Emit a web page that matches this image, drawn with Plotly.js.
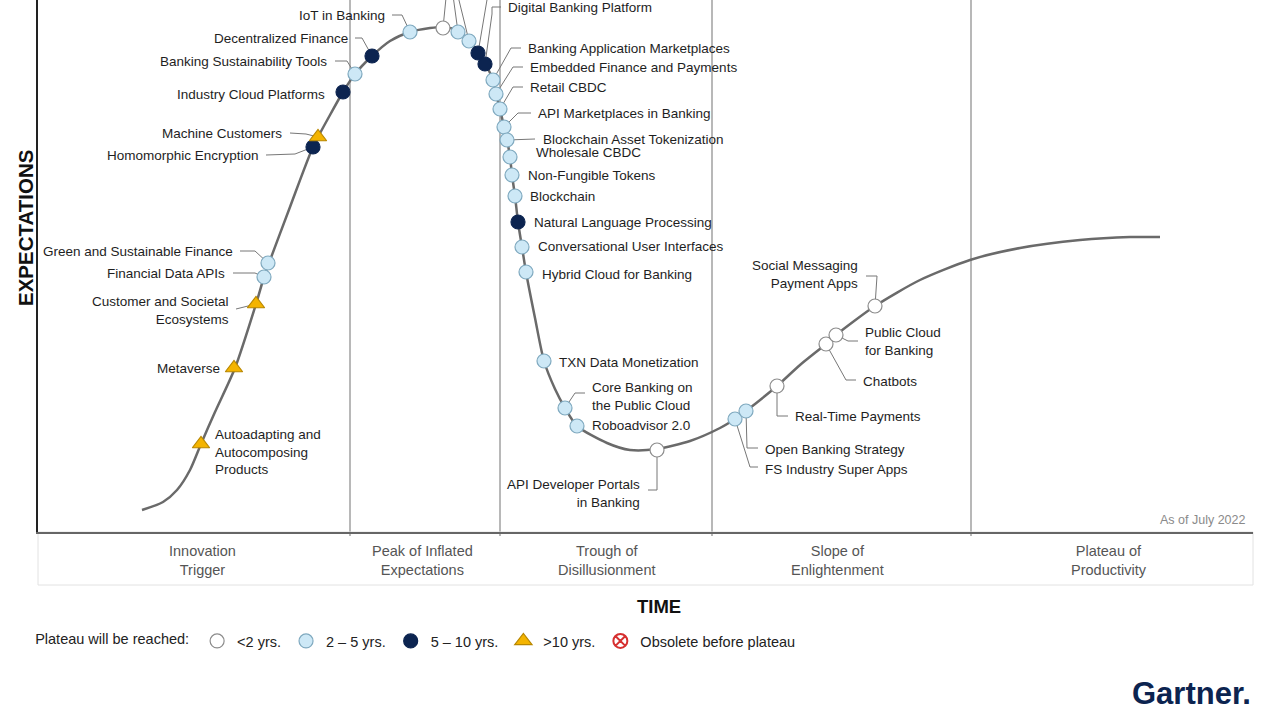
<!DOCTYPE html>
<html><head><meta charset="utf-8">
<script src="https://cdn.plot.ly/plotly-3.0.1.min.js"></script>
<style>html,body{margin:0;padding:0;background:#fff}#chart{width:1280px;height:720px}</style>
</head><body><div id="chart"></div>
<script>
// ---- Hype curve (time vs expectations) ----
const curveTime   = [104,125,139,152,163,177,197,218,226,231,252,275,292,305,317,334,352,372,392,407,420,431,440,448,455,458,462,466,469,472,474,477,480,484,488,497,506,517,527,539,569,592,619,652,682,697,708,739,762,788,798,837,882,932,982,1042,1092,1122];
const curveExpect = [22,30,42,62,88,120,164,228,255,269,325,385,417,440,458,476,491,500,504,505,501,492,480,467,452,438,423,405,392,375,357,336,310,285,260,214,171,143,124,106,89,82,83,91,104,113,121,146,167,188,197,226,252,272,284,292,295,295];

// ---- Technologies ----
const techNames = [
  "Autoadapting and<br>Autocomposing<br>Products","Metaverse","Customer and Societal<br>Ecosystems",
  "Financial Data APIs","Green and Sustainable Finance","Homomorphic Encryption","Machine Customers",
  "Industry Cloud Platforms","Banking Sustainability Tools","Decentralized Finance","IoT in Banking",
  "","","","","Digital Banking Platform",
  "Banking Application Marketplaces","Embedded Finance and Payments","Retail CBDC","API Marketplaces in Banking",
  "Blockchain Asset Tokenization","Wholesale CBDC","Non-Fungible Tokens","Blockchain","Natural Language Processing",
  "Conversational User Interfaces","Hybrid Cloud for Banking","TXN Data Monetization","Core Banking on<br>the Public Cloud",
  "Roboadvisor 2.0","API Developer Portals<br>in Banking","FS Industry Super Apps","Open Banking Strategy",
  "Real-Time Payments","Chatbots","Public Cloud<br>for Banking","Social Messaging<br>Payment Apps"
];
const techTime   = [163,196,218,226,230,275,280,305,317,334,372,405,420,431,440,447,455,458,462,466,469,472,474,477,480,484,488,506,527,539,619,697,708,739,788,798,837];
const techExpect = [88,164,228,255,269,385,395,440,458,476,500,504,500,491,479,468,452,438,423,405,392,375,357,336,310,285,260,171,124,106,82,113,121,146,188,197,226];
const techPlateau = [">10",">10",">10","2-5","2-5","5-10",">10","5-10","2-5","5-10","2-5",
  "<2","2-5","2-5","5-10","5-10","2-5","2-5","2-5","2-5","2-5","2-5","2-5","2-5","5-10","2-5","2-5","2-5","2-5","2-5",
  "<2","2-5","2-5","<2","<2","<2","<2"];

// ---- Phases ----
const phaseNames = ["Innovation<br>Trigger","Peak of Inflated<br>Expectations","Trough of<br>Disillusionment","Slope of<br>Enlightenment","Plateau of<br>Productivity"];
const phaseBounds = [312,462,674,933];

// ---- Legend ----
const plateauKeys   = ["<2","2-5","5-10",">10","obsolete"];
const plateauLabels = ["<2 yrs.","2 – 5 yrs.","5 – 10 yrs.",">10 yrs.","Obsolete before plateau"];

// ---- Styling / placement (not data) ----
const styleBy = {
  "<2":      {symbol:"circle", size:14, color:"#ffffff", line:"#8c8c8c"},
  "2-5":     {symbol:"circle", size:14, color:"#cde8f6", line:"#7fa9bf"},
  "5-10":    {symbol:"circle", size:14, color:"#0c2450", line:"#0c2450"},
  ">10":     {symbol:"triangle-up", size:15, color:"#f4b400", line:"#b88700"},
  "obsolete":{symbol:"circle-x", size:14, color:"#ffffff", line:"#d63030"}
};
// label placement: anchor, pixel offset from marker (dy down positive), leader waypoints (offsets)
const place = [
  {a:"left",dx:12,dy:8,w:[]},{a:"right",dx:-12,dy:0,w:[]},{a:"right",dx:-25,dy:6,w:[[-20,5]]},
  {a:"right",dx:-37,dy:-4,w:[[-9,-4],[-31,-4]]},{a:"right",dx:-33,dy:-12,w:[[-13,-12],[-28,-12]]},
  {a:"right",dx:-52,dy:8,w:[[-18,7],[-47,8]]},{a:"right",dx:-34,dy:-4,w:[[-12,-3],[-28,-4]]},
  {a:"right",dx:-16,dy:2,w:[]},{a:"right",dx:-26,dy:-13,w:[[-8,-13],[-20,-13]]},
  {a:"right",dx:-22,dy:-18,w:[[-10,-18],[-17,-18]]},{a:"right",dx:-23,dy:-17,w:[[-8,-17],[-18,-17]]},
  {w:[[4,-40]]},{w:[[-6,-44]]},{w:[[-13,-53]]},{w:[[11,-65]]},
  {a:"left",dx:21,dy:-57,w:[[7,-50],[7,-57],[16,-57]]},
  {a:"left",dx:33,dy:-32,w:[[18,-32],[28,-32]]},{a:"left",dx:32,dy:-27,w:[[17,-27],[27,-27]]},
  {a:"left",dx:28,dy:-22,w:[[13,-22],[23,-22]]},{a:"left",dx:32,dy:-14,w:[[14,-14],[27,-14]]},
  {a:"left",dx:34,dy:-1,w:[[28,-1]]},{a:"left",dx:24,dy:-5,w:[]},{a:"left",dx:14,dy:0,w:[]},
  {a:"left",dx:13,dy:0,w:[]},{a:"left",dx:14,dy:0,w:[]},{a:"left",dx:14,dy:-1,w:[]},{a:"left",dx:14,dy:2,w:[]},
  {a:"left",dx:13,dy:1,w:[]},{a:"left",dx:25,dy:-12,w:[[10,-15],[20,-15]]},{a:"left",dx:13,dy:-1,w:[]},
  {a:"right",dx:-15,dy:43,w:[[0,40],[-9,40]]},{a:"left",dx:28,dy:50,w:[[15,48],[23,48]]},
  {a:"left",dx:17,dy:38,w:[[1,37],[12,37]]},{a:"left",dx:16,dy:30,w:[[0,30],[11,30]]},
  {a:"left",dx:35,dy:37,w:[[20,36],[30,36]]},{a:"left",dx:27,dy:6,w:[[12,6],[22,6]]},
  {a:"right",dx:-15,dy:-32,w:[[2,-30],[-9,-30]]}
];
const phaseLabelX = [164,384,569,799,1071];

const FONT = "Liberation Sans, Arial, sans-serif";
const traces = [];
traces.push({x:curveTime,y:curveExpect,mode:"lines",line:{color:"#6a6a6a",width:2.5,shape:"spline",smoothing:0.7},showlegend:false,hoverinfo:"skip"});

// leader lines (1 unit = 1 px on both axes)
const lx=[], ly=[];
techNames.forEach((n,i)=>{
  const p=place[i]; if(!p.w.length) return;
  lx.push(techTime[i]); ly.push(techExpect[i]);
  p.w.forEach(w=>{lx.push(techTime[i]+w[0]); ly.push(techExpect[i]-w[1]);});
  lx.push(null); ly.push(null);
});
traces.push({x:lx,y:ly,mode:"lines",line:{color:"#777",width:1},showlegend:false,hoverinfo:"skip",connectgaps:false});

plateauKeys.forEach((k,j)=>{
  const idx = techPlateau.map((v,i)=>v===k?i:-1).filter(i=>i>=0);
  const s = styleBy[k];
  traces.push({
    x: idx.length? idx.map(i=>techTime[i]) : [null],
    y: idx.length? idx.map(i=>techExpect[i]) : [null],
    mode:"markers", name:plateauLabels[j], cliponaxis:false, hoverinfo:"skip",
    marker:{symbol:s.symbol,size:s.size,color:s.color,line:{color:s.line,width:k==="obsolete"?2:1.2}}
  });
});

const annotations = [];
techNames.forEach((n,i)=>{
  if(!n) return; const p=place[i];
  annotations.push({x:techTime[i],y:techExpect[i],xref:"x",yref:"y",text:n,showarrow:false,
    xanchor:p.a,yanchor:"middle",align:p.a,xshift:p.dx,yshift:-p.dy,
    font:{family:FONT,size:13.5,color:"#1e1e1e"}});
});
const PH = 532; // plot height px
const py = v => (PH - v)/PH;
phaseNames.forEach((n,i)=>{
  annotations.push({x:phaseLabelX[i],xref:"x",y:py(560.5),yref:"paper",text:n,showarrow:false,
    xanchor:"center",yanchor:"middle",font:{family:FONT,size:14.5,color:"#555"}});
});
annotations.push({x:1210,xref:"x",y:py(520),yref:"paper",text:"As of July 2022",showarrow:false,xanchor:"right",yanchor:"middle",font:{family:FONT,size:12.5,color:"#8a8a8a"}});
annotations.push({x:(25-38)/1215,xref:"paper",y:py(228),yref:"paper",text:"<b>EXPECTATIONS</b>",textangle:-90,showarrow:false,xanchor:"center",yanchor:"middle",font:{family:FONT,size:20.5,color:"#111"}});
annotations.push({x:621,xref:"x",y:py(606),yref:"paper",text:"<b>TIME</b>",showarrow:false,xanchor:"center",yanchor:"middle",font:{family:FONT,size:18.5,color:"#111"}});
annotations.push({x:1,xref:"paper",y:py(693),yref:"paper",text:"<b>Gartner.</b>",showarrow:false,xanchor:"right",yanchor:"middle",font:{family:FONT,size:31,color:"#0c2450"}});

const shapes = phaseBounds.map(b=>({type:"line",xref:"x",yref:"paper",x0:b,x1:b,y0:py(536),y1:1,line:{color:"#a0a0a0",width:1.5},layer:"below"}));
shapes.push({type:"rect",xref:"paper",yref:"paper",x0:0,x1:1,y0:0,y1:py(585),line:{color:"#e2e2e2",width:1},layer:"below"});

const layout = {
  width:1280,height:720,margin:{l:38,r:27,t:0,b:188},
  paper_bgcolor:"#fff",plot_bgcolor:"#fff",hovermode:false,
  font:{family:FONT,color:"#222"},
  xaxis:{range:[0,1215],showgrid:false,zeroline:false,showticklabels:false,ticks:"",showline:true,linecolor:"#666",linewidth:2,fixedrange:true},
  yaxis:{range:[0,532],showgrid:false,zeroline:false,showticklabels:false,ticks:"",showline:true,linecolor:"#222",linewidth:2,fixedrange:true},
  showlegend:true,
  legend:{orientation:"h",x:-0.004,xanchor:"left",y:py(641),yanchor:"middle",font:{family:FONT,size:14.5,color:"#222"},
    title:{text:"Plateau will be reached:",side:"left",font:{family:FONT,size:14.5,color:"#222"}},bgcolor:"rgba(0,0,0,0)",traceorder:"normal"},
  annotations, shapes
};
Plotly.newPlot("chart",traces,layout,{displayModeBar:false,staticPlot:true});
</script></body></html>
